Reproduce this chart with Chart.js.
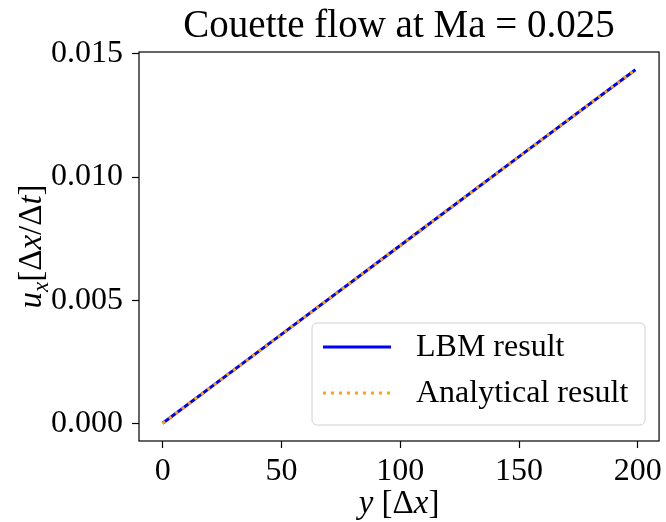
<!DOCTYPE html>
<html>
<head>
<meta charset="utf-8">
<script src="https://cdn.jsdelivr.net/npm/chart.js@4.4.1/dist/chart.umd.min.js"></script>
<style>
  html, body { margin: 0; padding: 0; background: #fff; }
  #wrap { width: 666px; height: 522px; }
</style>
</head>
<body>
<div id="wrap"><canvas id="couette"></canvas></div>
<script>
// values
const yPos = [0, 50, 100, 150, 199];
const uLBM = [0, 0.00361, 0.00722, 0.01083, 0.01436];
const uAnalytical = [0, 0.00361, 0.00722, 0.01083, 0.01436];
const xTicks = [0, 50, 100, 150, 200];
const yTicks = [0.000, 0.005, 0.010, 0.015];

const FONT = "'Liberation Serif', 'Times New Roman', serif";
const FS = 32;
const LFS = 33; // axis label size

// draws a label made of pieces (italic / subscript) centred on cx
function richWidth(ctx, parts) {
  let w = 0;
  parts.forEach(p => {
    ctx.font = (p.it ? 'italic ' : '') + (p.sub ? LFS * 0.7 : LFS) + 'px ' + FONT;
    w += ctx.measureText(p.t).width;
  });
  return w;
}
function richText(ctx, parts, cx, y) {
  let x = cx - richWidth(ctx, parts) / 2;
  parts.forEach(p => {
    ctx.font = (p.it ? 'italic ' : '') + (p.sub ? LFS * 0.7 : LFS) + 'px ' + FONT;
    ctx.fillText(p.t, x, p.sub ? y + LFS * 0.22 : y);
    x += ctx.measureText(p.t).width;
  });
}

const extras = {
  id: 'extras',
  afterDraw(chart) {
    const ctx = chart.ctx;
    const a = chart.chartArea;
    ctx.save();
    // frame
    ctx.strokeStyle = '#000';
    ctx.lineWidth = 1.2;
    ctx.strokeRect(a.left, a.top, a.right - a.left, a.bottom - a.top);

    ctx.fillStyle = '#000';
    ctx.textBaseline = 'alphabetic';
    ctx.textAlign = 'left';
    const mx = (a.left + a.right) / 2;
    const my = (a.top + a.bottom) / 2;

    // title
    ctx.font = '39px ' + FONT;
    ctx.textAlign = 'center';
    ctx.fillText('Couette flow at Ma = 0.025', mx, 37);
    ctx.textAlign = 'left';

    // x label
    richText(ctx, [{t: 'y', it: true}, {t: ' [Δ'}, {t: 'x', it: true}, {t: ']'}], mx, 513);

    // y label
    ctx.save();
    ctx.translate(41, my);
    ctx.rotate(-Math.PI / 2);
    richText(ctx, [{t: 'u', it: true}, {t: 'x', it: true, sub: true}, {t: '[Δ'},
      {t: 'x', it: true}, {t: '/Δ'}, {t: 't', it: true}, {t: ']'}], 0, 0);
    ctx.restore();

    // legend
    const lx = 312, ly = 323, lw = 333, lh = 102;
    ctx.beginPath();
    ctx.roundRect(lx, ly, lw, lh, 5);
    ctx.fillStyle = 'rgba(255,255,255,0.8)';
    ctx.fill();
    ctx.strokeStyle = '#d0d0d0';
    ctx.lineWidth = 1;
    ctx.stroke();
    chart.data.datasets.forEach((ds, i) => {
      const yy = 347 + i * 46;
      ctx.beginPath();
      ctx.strokeStyle = ds.borderColor;
      ctx.lineWidth = ds.borderWidth;
      ctx.lineCap = 'butt';
      ctx.setLineDash(ds.borderDash || []);
      ctx.moveTo(323, yy);
      ctx.lineTo(391, yy);
      ctx.stroke();
      ctx.setLineDash([]);
      ctx.fillStyle = '#000';
      ctx.font = '32px ' + FONT;
      ctx.textBaseline = 'middle';
      ctx.fillText(ds.label, 416, yy + 1);
    });
    ctx.restore();
  }
};

new Chart(document.getElementById('couette'), {
  type: 'line',
  data: {
    datasets: [
      {
        label: 'LBM result',
        data: yPos.map((v, i) => ({x: v, y: uLBM[i]})),
        borderColor: '#0000ff',
        borderWidth: 3,
        pointRadius: 0,
        tension: 0,
        order: 2
      },
      {
        label: 'Analytical result',
        data: yPos.map((v, i) => ({x: v, y: uAnalytical[i]})),
        borderColor: '#ffa500',
        borderWidth: 3,
        borderDash: [3, 5],
        borderCapStyle: 'butt',
        pointRadius: 0,
        tension: 0,
        order: 1
      }
    ]
  },
  options: {
    responsive: true,
    maintainAspectRatio: false,
    animation: false,
    events: [],
    layout: { padding: { top: 52, right: 5, left: 0, bottom: 0 } },
    plugins: {
      legend: { display: false },
      title: { display: false },
      tooltip: { enabled: false }
    },
    scales: {
      x: {
        type: 'linear',
        min: -9.95,
        max: 208.95,
        afterFit: s => { s.height = 81; },
        afterBuildTicks: s => { s.ticks = xTicks.map(v => ({value: v})); },
        border: { display: false },
        grid: { drawOnChartArea: false, drawTicks: true, tickLength: 7, tickColor: '#000', tickWidth: 1.2 },
        ticks: {
          color: '#000',
          font: { family: FONT, size: FS },
          padding: 4,
          maxRotation: 0,
          callback: v => String(v)
        }
      },
      y: {
        type: 'linear',
        min: -0.000718,
        max: 0.015078,
        afterFit: s => { s.width = 139; },
        afterBuildTicks: s => { s.ticks = yTicks.map(v => ({value: v})); },
        border: { display: false },
        grid: { drawOnChartArea: false, drawTicks: true, tickLength: 7, tickColor: '#000', tickWidth: 1.2 },
        ticks: {
          color: '#000',
          font: { family: FONT, size: FS },
          padding: 9,
          callback: v => v.toFixed(3)
        }
      }
    }
  },
  plugins: [extras]
});
</script>
</body>
</html>
